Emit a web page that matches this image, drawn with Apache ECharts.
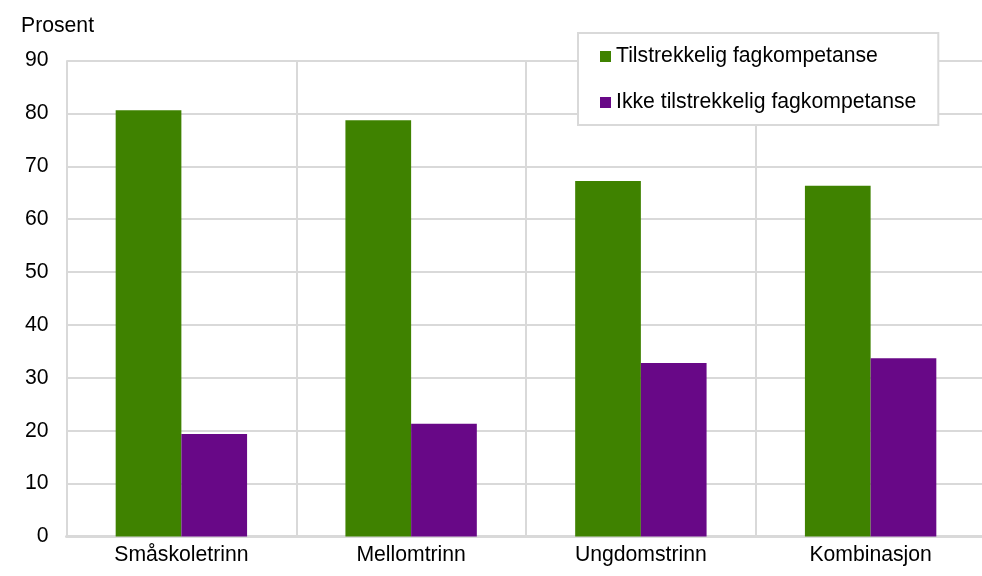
<!DOCTYPE html>
<html>
<head>
<meta charset="utf-8">
<script src="https://cdn.jsdelivr.net/npm/echarts@6/dist/echarts.min.js"></script>
<style>
html,body{margin:0;padding:0;background:#fff;}
#chart{width:982px;height:576px;}
</style>
</head>
<body>
<div id="chart"></div>
<script>
const categories = ['Småskoletrinn', 'Mellomtrinn', 'Ungdomstrinn', 'Kombinasjon'];
const seriesNames = ['Tilstrekkelig fagkompetanse', 'Ikke tilstrekkelig fagkompetanse'];
const tilstrekkelig = [80.6, 78.7, 67.2, 66.3];
const ikkeTilstrekkelig = [19.4, 21.3, 32.8, 33.7];
const yTicks = [0, 10, 20, 30, 40, 50, 60, 70, 80, 90];

const FONT = '"Liberation Sans", Arial, sans-serif';
const GRID = '#d9d9d9';

const chart = echarts.init(document.getElementById('chart'), null, {renderer: 'canvas'});
chart.setOption({
  animation: false,
  backgroundColor: '#ffffff',
  textStyle: {fontFamily: FONT},
  title: {
    text: 'Prosent',
    left: 16,
    top: 11,
    textStyle: {fontFamily: FONT, fontSize: 21.2, fontWeight: 'normal', color: '#000'}
  },
  legend: {
    orient: 'vertical',
    left: 578,
    top: 33,
    padding: [13, 22, 12, 22],
    itemGap: 25,
    itemWidth: 11,
    itemHeight: 11,
    icon: 'rect',
    borderColor: GRID,
    borderWidth: 2,
    backgroundColor: '#fff',
    data: seriesNames,
    textStyle: {fontFamily: FONT, fontSize: 21.2, color: '#000', lineHeight: 21}
  },
  grid: {left: 66.5, top: 60.5, width: 919, height: 476, containLabel: false, outerBoundsMode: 'none'},
  xAxis: {
    type: 'category',
    data: categories,
    axisTick: {show: false},
    axisLine: {show: true, lineStyle: {color: GRID, width: 3}},
    splitLine: {show: true, lineStyle: {color: GRID, width: 2}},
    axisLabel: {fontFamily: FONT, fontSize: 21.2, color: '#000', margin: 8}
  },
  yAxis: {
    type: 'value',
    min: yTicks[0],
    max: yTicks[yTicks.length - 1],
    interval: 10,
    axisLine: {show: false},
    axisTick: {show: false},
    splitLine: {show: true, lineStyle: {color: GRID, width: 2}},
    axisLabel: {fontFamily: FONT, fontSize: 21.2, color: '#000', margin: 18}
  },
  series: [
    {
      name: seriesNames[0],
      type: 'bar',
      data: tilstrekkelig,
      barWidth: 65.7,
      barGap: '0%',
      itemStyle: {color: '#3f8200'}
    },
    {
      name: seriesNames[1],
      type: 'bar',
      data: ikkeTilstrekkelig,
      barWidth: 65.7,
      barGap: '0%',
      itemStyle: {color: '#680887'}
    }
  ]
});
</script>
</body>
</html>
